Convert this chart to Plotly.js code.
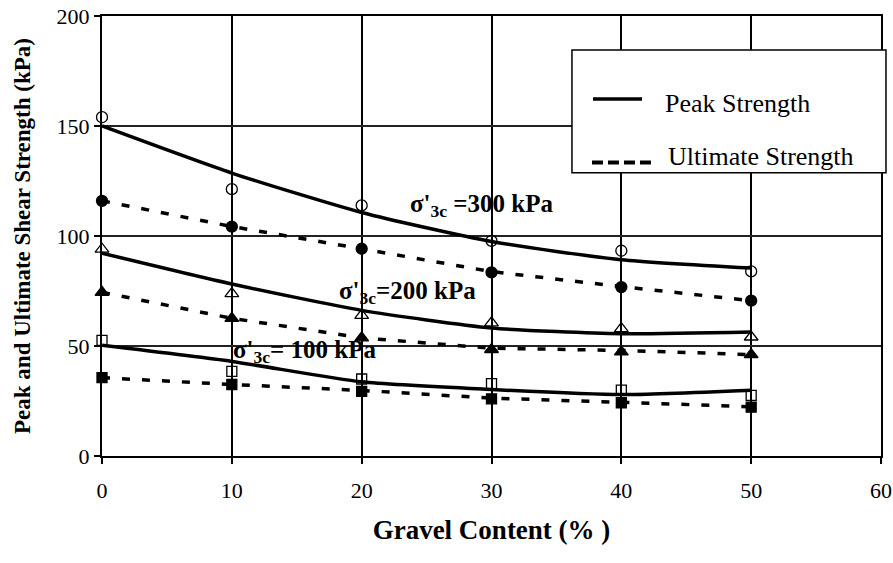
<!DOCTYPE html>
<html>
<head>
<meta charset="utf-8">
<script src="https://cdn.plot.ly/plotly-3.0.1.min.js"></script>
<style>html,body{margin:0;padding:0;background:#fff;}#chart{width:893px;height:563px;}</style>
</head>
<body>
<div id="chart"></div>
<script>
// Gravel content (%)
const gravel = [0, 10, 20, 30, 40, 50];

// Measured peak strengths (open markers)
const peak300 = [154.0, 121.3, 113.9, 97.8, 93.3, 83.9];
const peak200 = [94.0, 73.8, 63.9, 60.5, 57.9, 54.1];
const peak100 = [52.6, 38.5, 35.0, 32.9, 29.9, 27.6];

// Measured ultimate strengths (filled markers)
const ult300 = [116.0, 104.3, 94.2, 83.5, 76.8, 70.6];
const ult200 = [74.4, 62.6, 53.7, 48.4, 47.3, 46.1];
const ult100 = [35.6, 32.5, 29.4, 26.0, 24.2, 22.2];

// Fitted peak-strength curves (solid lines)
const peakFit300 = [150.0, 128.6, 110.7, 97.5, 89.2, 85.4];
const peakFit200 = [92.2, 78.2, 66.2, 58.2, 55.6, 56.4];
const peakFit100 = [50.3, 43.0, 33.7, 30.2, 27.9, 29.9];

// Fitted ultimate-strength curves (dashed lines)
const ultFit300 = [116.0, 104.3, 94.2, 83.8, 77.0, 70.6];
const ultFit200 = [74.4, 62.6, 53.7, 49.0, 48.0, 46.1];
const ultFit100 = [35.6, 32.5, 29.8, 26.3, 24.4, 22.4];

const xTicks = [0, 10, 20, 30, 40, 50, 60];
const yTicks = [0, 50, 100, 150, 200];

const legendLabels = ["Peak Strength", "Ultimate Strength"];
const curveLabels = [
  "σ'<sub>3c</sub> =300 kPa",
  "σ'<sub>3c</sub>=200 kPa",
  "σ'<sub>3c</sub>= 100 kPa"
];

const serif = "Liberation Serif, Times New Roman, serif";
const solidLine = {color: "black", width: 3.5, shape: "spline", smoothing: 0.6};
const dashLine = {color: "black", width: 3.5, dash: "8px,12px"};

function markers(y, symbol, size) {
  return {x: gravel, y: y, mode: "markers", type: "scatter", showlegend: false, cliponaxis: false,
    marker: {symbol: symbol, size: size, color: "black", line: {color: "black", width: 1.3}}, hoverinfo: "x+y"};
}
function curve(y, line) {
  return {x: gravel, y: y, mode: "lines", type: "scatter", showlegend: false, line: line, hoverinfo: "x+y"};
}

const traces = [
  curve(peakFit300, solidLine), curve(peakFit200, solidLine), curve(peakFit100, solidLine),
  curve(ultFit300, dashLine), curve(ultFit200, dashLine), curve(ultFit100, dashLine),
  markers(peak300, "circle-open", 11), markers(ult300, "circle", 11),
  markers(peak200, "triangle-up-open", 12), markers(ult200, "triangle-up", 12),
  markers(peak100, "square-open", 10), markers(ult100, "square", 10)
];

const layout = {
  width: 893, height: 563,
  margin: {l: 102, r: 12, t: 16, b: 107},
  paper_bgcolor: "white", plot_bgcolor: "white",
  font: {family: serif, color: "black", size: 22},
  showlegend: false,
  xaxis: {
    range: [0, 60], tickvals: xTicks, ticktext: xTicks.map(String),
    showgrid: true, gridcolor: "black", gridwidth: 2,
    showline: true, linecolor: "black", linewidth: 2, mirror: true,
    ticks: "outside", ticklen: 6, tickwidth: 2, tickcolor: "black", ticklabelstandoff: 8,
    zeroline: false, tickfont: {family: serif, size: 22},
    title: {text: "<b>Gravel Content (% )</b>", font: {family: serif, size: 27}, standoff: 18}
  },
  yaxis: {
    range: [0, 200], tickvals: yTicks, ticktext: yTicks.map(String),
    showgrid: true, gridcolor: "#222", gridwidth: 1.2,
    showline: true, linecolor: "black", linewidth: 2, mirror: true,
    ticks: "outside", ticklen: 6, tickwidth: 1.5, tickcolor: "black",
    zeroline: false, tickfont: {family: serif, size: 22},
    title: {text: "<b>Peak and Ultimate Shear Strength (kPa)</b>", font: {family: serif, size: 23}, standoff: 20}
  },
  shapes: [
    {type: "rect", xref: "paper", yref: "paper", x0: 0.6033, x1: 1.0064, y0: 0.6436, y1: 0.9228,
     line: {color: "black", width: 1.5}, fillcolor: "white", layer: "above"},
    {type: "line", xref: "paper", yref: "paper", x0: 0.6303, x1: 0.6932, y0: 0.8116, y1: 0.8116,
     line: {color: "black", width: 3.5}},
    {type: "line", xref: "paper", yref: "paper", x0: 0.6290, x1: 0.7047, y0: 0.6670, y1: 0.6670,
     line: {color: "black", width: 4, dash: "11px,5px"}}
  ],
  annotations: [
    {xref: "paper", yref: "paper", x: 0.7202, y: 0.8002, xanchor: "left", yanchor: "middle", showarrow: false,
     text: legendLabels[0], font: {family: serif, size: 26}},
    {xref: "paper", yref: "paper", x: 0.7240, y: 0.6799, xanchor: "left", yanchor: "middle", showarrow: false,
     text: legendLabels[1], font: {family: serif, size: 26}},
    {x: 29.2, y: 114, xref: "x", yref: "y", showarrow: false, text: "<b>" + curveLabels[0] + "</b>",
     font: {family: serif, size: 25}},
    {x: 23.5, y: 74.2, xref: "x", yref: "y", showarrow: false, text: "<b>" + curveLabels[1] + "</b>",
     font: {family: serif, size: 25}},
    {x: 15.6, y: 47.4, xref: "x", yref: "y", showarrow: false, text: "<b>" + curveLabels[2] + "</b>",
     font: {family: serif, size: 25}}
  ]
};

Plotly.newPlot("chart", traces, layout, {displayModeBar: false, staticPlot: true});
</script>
</body>
</html>
